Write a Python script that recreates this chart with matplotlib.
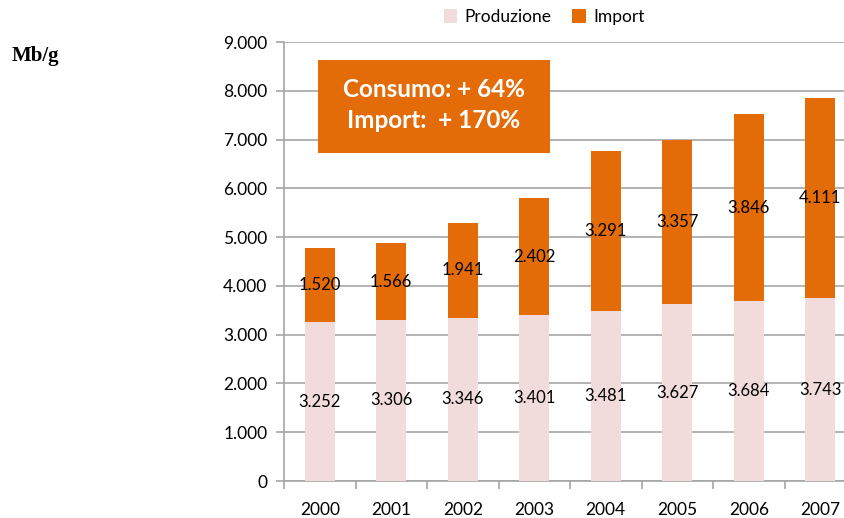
import matplotlib
matplotlib.use("Agg")
import matplotlib.pyplot as plt
import numpy as np
from matplotlib.ticker import FuncFormatter, MultipleLocator
from matplotlib.patches import Rectangle

years = ["2000", "2001", "2002", "2003", "2004", "2005", "2006", "2007"]
produzione = [3252, 3306, 3346, 3401, 3481, 3627, 3684, 3743]
import_ = [1520, 1566, 1941, 2402, 3291, 3357, 3846, 4111]

PINK = "#F2DCDB"
ORANGE = "#E36C09"
GRID = "#A6A6A6"
FONT = "Lato"

def fmt(v):
    return f"{int(v):,}".replace(",", ".")

fig = plt.figure(figsize=(8.44, 5.18), dpi=100)
ax = fig.add_axes([284/844, 1-481/518, (856-284)/844, (481-42)/518])

x = np.arange(len(years))
w = 0.42
ax.bar(x, produzione, w, color=PINK, label="Produzione", zorder=3)
ax.bar(x, import_, w, bottom=produzione, color=ORANGE, label="Import", zorder=3)

for xi, p, i in zip(x, produzione, import_):
    ax.text(xi, p/2, fmt(p), ha="center", va="center", fontsize=12, family=FONT, color="black", zorder=4)
    ax.text(xi, p + i/2, fmt(i), ha="center", va="center", fontsize=12, family=FONT, color="black", zorder=4)

ax.set_xlim(-0.5, len(years)-0.5)
ax.set_ylim(0, 9000)
ax.yaxis.set_major_locator(MultipleLocator(1000))
ax.yaxis.set_major_formatter(FuncFormatter(lambda v, p: fmt(v)))
ax.grid(axis="y", color=GRID, linewidth=1.2, zorder=0)
ax.set_axisbelow(True)

ax.set_xticks(np.arange(-0.5, len(years), 1.0))
ax.set_xticklabels([])
ax.set_xticks(x, minor=True)
ax.set_xticklabels(years, minor=True)
ax.tick_params(axis="x", which="major", length=6, color=GRID, width=1.2, direction="out")
ax.tick_params(axis="x", which="minor", length=0, pad=15, labelsize=12.5)
ax.tick_params(axis="y", length=6, color=GRID, width=1.2, direction="out", labelsize=12.5, pad=6)
for lab in ax.get_xticklabels(minor=True) + ax.get_yticklabels():
    lab.set_family(FONT)

for s in ["top", "right"]:
    ax.spines[s].set_visible(False)
for s in ["left", "bottom"]:
    ax.spines[s].set_color(GRID)
    ax.spines[s].set_linewidth(1.2)

# annotation box (position in axes fraction)
bx0, bx1 = (318-284)/572, (550-284)/572
by0, by1 = (481-153)/439, (481-60)/439
ax.add_patch(Rectangle((bx0, by0), bx1-bx0, by1-by0, transform=ax.transAxes,
                       facecolor=ORANGE, edgecolor="none", zorder=5))
ax.text((bx0+bx1)/2, (by0+by1)/2 + 0.003, "Consumo: + 64%\nImport:  + 170%", transform=ax.transAxes,
        ha="center", va="center", fontsize=17.5, fontweight="bold", family=FONT,
        color="white", linespacing=1.42, zorder=6)

fig.legend(loc="center", bbox_to_anchor=(544/844, 1-17/518), ncol=2, frameon=False,
           prop={"family": FONT, "size": 12.5}, handlelength=0.8, handleheight=0.8,
           handletextpad=0.4, columnspacing=1.2)

fig.text(35/844, 1-56/518, "Mb/g", ha="center", va="center", fontsize=15,
         fontweight="bold", family="Liberation Serif")

fig.savefig("out.png", dpi=100)
